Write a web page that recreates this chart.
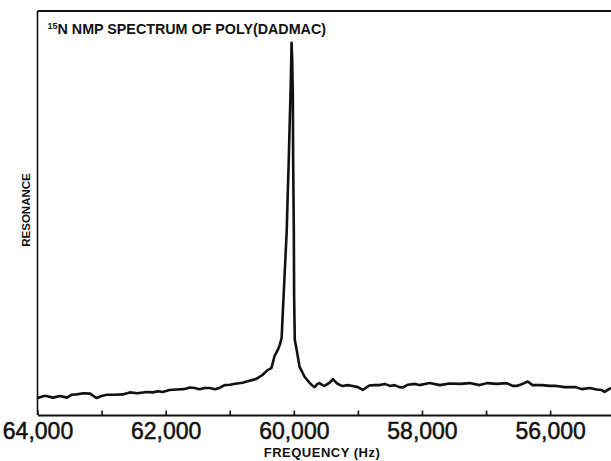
<!DOCTYPE html>
<html>
<head>
<meta charset="utf-8">
<script src="https://cdn.jsdelivr.net/npm/d3@7"></script>
<style>
  body { margin: 0; background: #fff; }
  svg text { font-family: "Liberation Sans", Arial, sans-serif; fill: #111; }
</style>
</head>
<body>
<div id="chart"></div>
<script>
// Set up the SVG container
var width = 611;
var height = 461;

// spectrum: frequency (Hz) and resonance (arbitrary units)
var freq = [
  64000, 63900, 63860, 63760, 63650, 63540, 63470, 63390, 63280, 63180,
  63080, 63000, 62920, 62790, 62670, 62560, 62440, 62300, 62200, 62120,
  62050, 61940, 61830, 61720, 61620, 61550, 61470, 61390, 61310, 61230,
  61160, 61080, 61000, 60890, 60800, 60690, 60590, 60490, 60410, 60350,
  60300, 60250, 60220, 60190, 60170, 60140, 60110, 60095, 60080, 60065,
  60050, 60040, 60035, 60025, 60015, 60010, 60000, 59995, 59985, 59955,
  59910, 59830, 59750, 59705, 59675, 59630, 59600, 59550, 59520, 59440,
  59390, 59330, 59280, 59240, 59160, 59080, 59000, 58925, 58860, 58820,
  58740, 58660, 58580, 58500, 58430, 58350, 58300, 58220, 58110, 58040,
  57880, 57720, 57570, 57410, 57260, 57100, 56975, 56835, 56680, 56585,
  56525, 56430, 56350, 56275, 56120, 56010, 55900, 55775, 55700, 55600,
  55510, 55385, 55275, 55200, 55150, 55100, 55050
];
var resonance = [
  4.2, 4.7, 4.7, 4.3, 4.7, 4.3, 5.0, 5.1, 5.4, 5.3,
  4.2, 4.7, 5.0, 5.0, 5.1, 5.6, 5.4, 5.7, 5.6, 5.9,
  5.7, 6.2, 6.3, 6.4, 6.8, 6.7, 6.4, 6.7, 6.7, 6.4,
  6.7, 7.4, 7.5, 7.8, 8.0, 8.5, 8.9, 9.9, 11.1, 11.6,
  14.6, 16.1, 17.3, 19.1, 26.0, 35.9, 45.8, 54.5, 62.4, 71.8,
  80.4, 87.9, 92.1, 87.9, 78.7, 62.4, 45.8, 29.2, 18.6, 16.1,
  11.9, 9.4, 7.9, 7.2, 6.9, 7.7, 7.9, 7.4, 7.2, 8.0,
  8.9, 7.9, 7.4, 7.2, 7.4, 7.2, 6.9, 6.2, 6.9, 7.3,
  7.4, 7.4, 7.7, 7.2, 7.4, 6.9, 6.8, 7.5, 7.7, 7.4,
  7.9, 7.4, 7.8, 7.7, 7.9, 7.4, 7.9, 7.7, 7.9, 7.2,
  7.2, 7.7, 8.3, 7.4, 7.4, 7.2, 7.2, 6.9, 6.9, 6.9,
  6.4, 6.7, 6.3, 6.2, 5.7, 6.2, 6.7
];

var tickValues = [64000, 63000, 62000, 61000, 60000, 59000, 58000, 57000, 56000];
var labelValues = [64000, 62000, 60000, 58000, 56000];

var title = "N NMP SPECTRUM OF POLY(DADMAC)";
var titleSup = "15";
var xTitle = "FREQUENCY (Hz)";
var yTitle = "RESONANCE";

var data = freq.map(function (f, i) {
  return { f: f, r: resonance[i] };
});

var margin = { top: 11, right: 0, bottom: 46, left: 37.5 };

var svg = d3
  .select("#chart")
  .append("svg")
  .attr("width", width)
  .attr("height", height);

var x = d3
  .scaleLinear()
  .domain([64000, 55050])
  .range([margin.left, width - margin.right]);

var y = d3
  .scaleLinear()
  .domain([0, 100])
  .range([height - margin.bottom, margin.top]);

// frame: bottom axis with inward ticks
var xAxis = d3
  .axisBottom(x)
  .tickValues(tickValues)
  .tickSizeInner(-4.5)
  .tickSizeOuter(0)
  .tickPadding(8)
  .tickFormat(function (d) {
    return labelValues.indexOf(d) >= 0 ? d3.format(",")(d) : "";
  });

var gx = svg
  .append("g")
  .attr("transform", "translate(0," + y(0) + ")")
  .call(xAxis);

gx.select(".domain").attr("stroke", "#111").attr("stroke-width", 2.2);
gx.selectAll(".tick line").attr("stroke", "#111").attr("stroke-width", 1.6);
gx.selectAll(".tick text")
  .style("font-family", "'Liberation Sans', Arial, sans-serif")
  .style("font-size", "23px")
  .attr("fill", "#111")
  .attr("stroke", "#111")
  .attr("stroke-width", 0.5);

// left border
svg
  .append("line")
  .attr("x1", x.range()[0])
  .attr("x2", x.range()[0])
  .attr("y1", y.range()[1])
  .attr("y2", y.range()[0])
  .attr("stroke", "#111")
  .attr("stroke-width", 1.6);

// top border
svg
  .append("line")
  .attr("x1", x.range()[0])
  .attr("x2", x.range()[1])
  .attr("y1", y.range()[1])
  .attr("y2", y.range()[1])
  .attr("stroke", "#111")
  .attr("stroke-width", 2);

// the spectrum trace
var line = d3
  .line()
  .x(function (d) { return x(d.f); })
  .y(function (d) { return y(d.r); });

svg
  .append("path")
  .datum(data)
  .attr("d", line)
  .attr("fill", "none")
  .attr("stroke", "#111")
  .attr("stroke-width", 2.6)
  .attr("stroke-linejoin", "round");

// title inside the frame
var t = svg
  .append("text")
  .attr("x", margin.left + 10)
  .attr("y", margin.top + 21)
  .style("font-size", "14.3px")
  .style("font-weight", "bold");
t.append("tspan")
  .attr("dy", "-0.35em")
  .style("font-size", "9px")
  .text(titleSup);
t.append("tspan")
  .attr("dy", "0.35em")
  .text(title);

// axis titles
svg
  .append("text")
  .attr("x", 322)
  .attr("y", 457)
  .attr("text-anchor", "middle")
  .style("font-size", "13px")
  .style("font-weight", "bold")
  .style("letter-spacing", "0.5px")
  .text(xTitle);

svg
  .append("text")
  .attr("transform", "translate(30,210) rotate(-90)")
  .attr("text-anchor", "middle")
  .style("font-size", "11.5px")
  .style("font-weight", "bold")
  .text(yTitle);
</script>
</body>
</html>
